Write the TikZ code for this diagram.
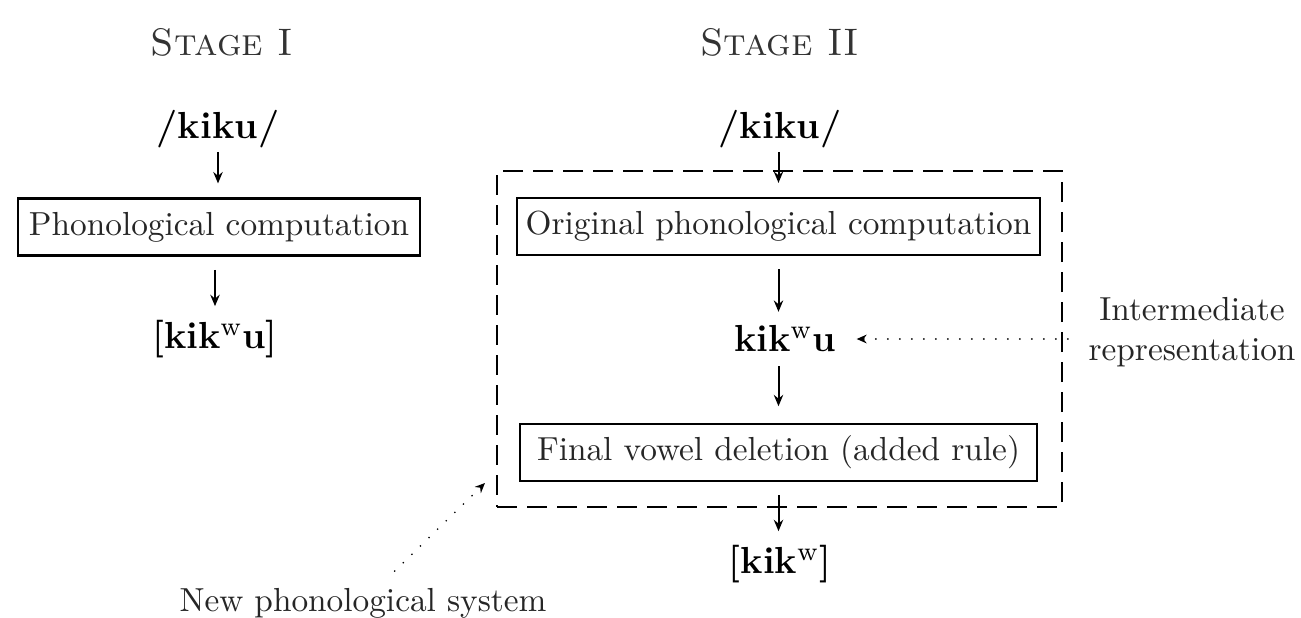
\documentclass[tikz,border=0pt]{standalone}
\usetikzlibrary{arrows.meta}
\begin{document}
\begin{tikzpicture}[x=0.3pt,y=-0.3pt,
  plain/.style={inner sep=0pt,text=black!85,font=\fontsize{10}{12}\selectfont},
  form/.style={inner sep=0pt,font=\fontsize{11.3}{13}\selectfont\bfseries},
  title/.style={inner sep=0pt,text=black!80,font=\fontsize{11.5}{14}\selectfont},
  procbox/.style={draw,line width=0.75pt,inner sep=0pt,minimum height=17pt,
    text=black!85,font=\fontsize{10}{12}\selectfont},
  frame/.style={draw,dashed,dash pattern=on 6pt off 3pt,line width=0.85pt,
    inner sep=0pt,minimum width=169.5pt,minimum height=100.8pt},
  arr/.style={line width=0.6pt,-{Stealth[length=3.4pt,width=2.8pt]}},
  dotarr/.style={line width=0.55pt,line cap=round,dash pattern=on 0pt off 3.6pt,
    -{Stealth[length=3pt,width=2.6pt]}}]
\useasboundingbox (0,0) rectangle (1301,618);

% stage I
\node[title] (t1) at (222,42) {\textsc{Stage I}};
\node[form] (in1) at (218,129) {/kiku/};
\node[procbox,minimum width=120.6pt] (pc1) at (219,227) {Phonological computation};
\node[form] (out1) at (215,339) {[kik\textsuperscript{\mdseries w}u]};
\draw[arr,shorten <=1pt,shorten >=4.2pt] (in1.south) -- (in1.south |- pc1.north);
\draw[arr,shorten <=4pt,shorten >=4pt] (pc1.south -| out1.north) -- (out1.north);

% stage II
\node[title] (t2) at (780,42) {\textsc{Stage II}};
\node[form] (in2) at (780,129) {/kiku/};
\node[frame] (sys) at (779.5,339) {};
\node[procbox,minimum width=157pt] (pc2) at (778.5,226.5) {Original phonological computation};
\node[form] (mid) at (785,339) {kik\textsuperscript{\mdseries w}u};
\node[procbox,minimum width=155pt] (fvd) at (778.5,452.5) {Final vowel deletion (added rule)};
\node[form] (out2) at (780,564) {[kik\textsuperscript{\mdseries w}]};
\draw[arr,shorten <=1pt,shorten >=4.2pt] (in2.south -| pc2.north) -- (pc2.north);
\draw[arr,shorten <=4pt,shorten >=4pt] (pc2.south) -- (pc2.south |- mid.north);
\draw[arr,shorten <=4pt,shorten >=5pt] (pc2.south |- mid.south) -- (fvd.north);
\draw[arr,shorten <=4pt,shorten >=4pt] (fvd.south) -- (fvd.south |- out2.north);

% annotations
\node[plain,align=center] (irep) at (1192,332) {Intermediate\\representation};
\node[plain] (nps) at (363,603) {New phonological system};
\coordinate (nps-tip) at (485,483);
\draw[dotarr,shorten <=6pt,shorten >=6pt] (irep.west |- mid.east) -- (mid.east);
\draw[dotarr,shorten <=7pt] (nps.north -| 378,0) -- (nps-tip);
\end{tikzpicture}
\end{document}
